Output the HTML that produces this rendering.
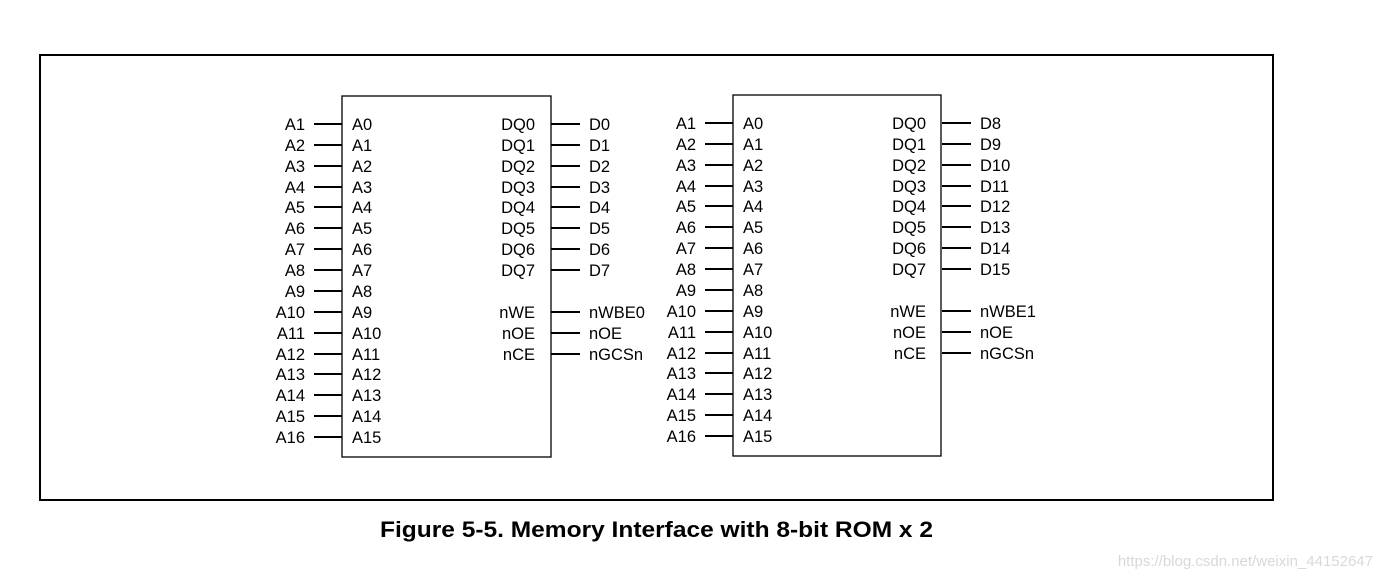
<!DOCTYPE html>
<html><head><meta charset="utf-8"><style>
html,body{margin:0;padding:0;background:#fff;}
svg{display:block;font-family:"Liberation Sans",Arial,sans-serif;}
</style></head><body>
<svg width="1384" height="579" viewBox="0 0 1384 579" xmlns="http://www.w3.org/2000/svg">
<rect x="40" y="55" width="1233" height="445" fill="none" stroke="#000" stroke-width="2"/>
<defs>
<g id="lines" stroke="#000" stroke-width="2">
<line x1="314" y1="124" x2="342" y2="124"/><line x1="314" y1="145" x2="342" y2="145"/><line x1="314" y1="166" x2="342" y2="166"/><line x1="314" y1="187" x2="342" y2="187"/>
<line x1="314" y1="207" x2="342" y2="207"/><line x1="314" y1="228" x2="342" y2="228"/><line x1="314" y1="249" x2="342" y2="249"/><line x1="314" y1="270" x2="342" y2="270"/>
<line x1="314" y1="291" x2="342" y2="291"/><line x1="314" y1="312" x2="342" y2="312"/><line x1="314" y1="333" x2="342" y2="333"/><line x1="314" y1="354" x2="342" y2="354"/>
<line x1="314" y1="374" x2="342" y2="374"/><line x1="314" y1="395" x2="342" y2="395"/><line x1="314" y1="416" x2="342" y2="416"/><line x1="314" y1="437" x2="342" y2="437"/>
<line x1="551" y1="124" x2="580" y2="124"/><line x1="551" y1="145" x2="580" y2="145"/><line x1="551" y1="166" x2="580" y2="166"/><line x1="551" y1="187" x2="580" y2="187"/>
<line x1="551" y1="207" x2="580" y2="207"/><line x1="551" y1="228" x2="580" y2="228"/><line x1="551" y1="249" x2="580" y2="249"/><line x1="551" y1="270" x2="580" y2="270"/>
<line x1="551" y1="312" x2="580" y2="312"/><line x1="551" y1="333" x2="580" y2="333"/><line x1="551" y1="354" x2="580" y2="354"/>
</g>
</defs>
<g>
<rect x="342" y="96" width="209" height="361" fill="none" stroke="#000" stroke-width="1.3"/>
<use href="#lines"/>
<g font-size="16.5" fill="#000">
<g text-anchor="end">
<text x="305" y="130">A1</text><text x="305" y="151">A2</text><text x="305" y="172">A3</text><text x="305" y="193">A4</text><text x="305" y="213">A5</text><text x="305" y="234">A6</text><text x="305" y="255">A7</text><text x="305" y="276">A8</text><text x="305" y="297">A9</text><text x="305" y="318">A10</text><text x="305" y="339">A11</text><text x="305" y="360">A12</text><text x="305" y="380">A13</text><text x="305" y="401">A14</text><text x="305" y="422">A15</text><text x="305" y="443">A16</text>
<text x="535" y="130">DQ0</text><text x="535" y="151">DQ1</text><text x="535" y="172">DQ2</text><text x="535" y="193">DQ3</text><text x="535" y="213">DQ4</text><text x="535" y="234">DQ5</text><text x="535" y="255">DQ6</text><text x="535" y="276">DQ7</text><text x="535" y="318">nWE</text><text x="535" y="339">nOE</text><text x="535" y="360">nCE</text>
</g>
<text x="352" y="130">A0</text><text x="352" y="151">A1</text><text x="352" y="172">A2</text><text x="352" y="193">A3</text><text x="352" y="213">A4</text><text x="352" y="234">A5</text><text x="352" y="255">A6</text><text x="352" y="276">A7</text><text x="352" y="297">A8</text><text x="352" y="318">A9</text><text x="352" y="339">A10</text><text x="352" y="360">A11</text><text x="352" y="380">A12</text><text x="352" y="401">A13</text><text x="352" y="422">A14</text><text x="352" y="443">A15</text>
<text x="589" y="130">D0</text><text x="589" y="151">D1</text><text x="589" y="172">D2</text><text x="589" y="193">D3</text><text x="589" y="213">D4</text><text x="589" y="234">D5</text><text x="589" y="255">D6</text><text x="589" y="276">D7</text><text x="589" y="318">nWBE0</text><text x="589" y="339">nOE</text><text x="589" y="360">nGCSn</text>
</g>
</g>
<g transform="translate(391,-1)">
<rect x="342" y="96" width="208" height="361" fill="none" stroke="#000" stroke-width="1.3"/>
<use href="#lines"/>
<g font-size="16.5" fill="#000">
<g text-anchor="end">
<text x="305" y="130">A1</text><text x="305" y="151">A2</text><text x="305" y="172">A3</text><text x="305" y="193">A4</text><text x="305" y="213">A5</text><text x="305" y="234">A6</text><text x="305" y="255">A7</text><text x="305" y="276">A8</text><text x="305" y="297">A9</text><text x="305" y="318">A10</text><text x="305" y="339">A11</text><text x="305" y="360">A12</text><text x="305" y="380">A13</text><text x="305" y="401">A14</text><text x="305" y="422">A15</text><text x="305" y="443">A16</text>
<text x="535" y="130">DQ0</text><text x="535" y="151">DQ1</text><text x="535" y="172">DQ2</text><text x="535" y="193">DQ3</text><text x="535" y="213">DQ4</text><text x="535" y="234">DQ5</text><text x="535" y="255">DQ6</text><text x="535" y="276">DQ7</text><text x="535" y="318">nWE</text><text x="535" y="339">nOE</text><text x="535" y="360">nCE</text>
</g>
<text x="352" y="130">A0</text><text x="352" y="151">A1</text><text x="352" y="172">A2</text><text x="352" y="193">A3</text><text x="352" y="213">A4</text><text x="352" y="234">A5</text><text x="352" y="255">A6</text><text x="352" y="276">A7</text><text x="352" y="297">A8</text><text x="352" y="318">A9</text><text x="352" y="339">A10</text><text x="352" y="360">A11</text><text x="352" y="380">A12</text><text x="352" y="401">A13</text><text x="352" y="422">A14</text><text x="352" y="443">A15</text>
<text x="589" y="130">D8</text><text x="589" y="151">D9</text><text x="589" y="172">D10</text><text x="589" y="193">D11</text><text x="589" y="213">D12</text><text x="589" y="234">D13</text><text x="589" y="255">D14</text><text x="589" y="276">D15</text><text x="589" y="318">nWBE1</text><text x="589" y="339">nOE</text><text x="589" y="360">nGCSn</text>
</g>
</g>
<text x="380" y="537" font-size="22" font-weight="bold" textLength="553" lengthAdjust="spacingAndGlyphs">Figure 5-5. Memory Interface with 8-bit ROM x 2</text>
<text x="1373" y="566" text-anchor="end" font-size="15" fill="#d8d8d8">https://blog.csdn.net/weixin_44152647</text>
</svg>
</body></html>
